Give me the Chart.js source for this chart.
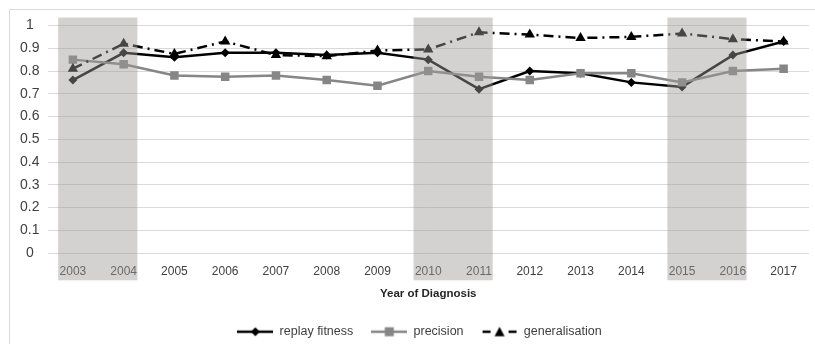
<!DOCTYPE html>
<html>
<head>
<meta charset="utf-8">
<script src="https://cdn.jsdelivr.net/npm/chart.js@4"></script>
<style>
  html, body { margin: 0; padding: 0; background: #fff; overflow: hidden; }
  #wrap { width: 815px; height: 344px; position: relative; }
</style>
</head>
<body>
<div id="wrap"><canvas id="c" width="815" height="344"></canvas></div>
<script>
const years = ['2003','2004','2005','2006','2007','2008','2009','2010','2011','2012','2013','2014','2015','2016','2017'];
const replayFitness = [0.76,0.88,0.86,0.88,0.88,0.87,0.88,0.85,0.72,0.80,0.79,0.75,0.73,0.87,0.93];
const precision     = [0.85,0.83,0.78,0.775,0.78,0.76,0.735,0.80,0.775,0.76,0.79,0.79,0.75,0.80,0.81];
const generalisation= [0.81,0.92,0.875,0.93,0.87,0.865,0.89,0.895,0.97,0.96,0.945,0.95,0.965,0.94,0.93];
const yTicks = [0,0.1,0.2,0.3,0.4,0.5,0.6,0.7,0.8,0.9,1];
const shadedRanges = [['2003','2004'],['2010','2011'],['2015','2016']];
const xTitle = 'Year of Diagnosis';
const seriesNames = ['replay fitness','precision','generalisation'];

const FONT = '"Liberation Sans", Arial, sans-serif';
const TXT = '#404040';

function legendIcon(kind) {
  const c = document.createElement('canvas');
  c.width = 36; c.height = 12;
  const g = c.getContext('2d');
  g.lineWidth = 2.5;
  if (kind === 0) {
    g.strokeStyle = '#000'; g.beginPath(); g.moveTo(0,6); g.lineTo(36,6); g.stroke();
    g.fillStyle = '#000'; g.beginPath(); g.moveTo(18,1.5); g.lineTo(22.5,6); g.lineTo(18,10.5); g.lineTo(13.5,6); g.closePath(); g.fill();
  } else if (kind === 1) {
    g.strokeStyle = '#868686'; g.beginPath(); g.moveTo(0,6); g.lineTo(36,6); g.stroke();
    g.fillStyle = '#868686'; g.fillRect(13.5,1.5,9,9);
  } else {
    g.strokeStyle = '#000'; g.beginPath(); g.moveTo(1,6); g.lineTo(9,6); g.moveTo(27,6); g.lineTo(35,6); g.stroke();
    g.fillStyle = '#000'; g.beginPath(); g.moveTo(18,1); g.lineTo(23,10.5); g.lineTo(13,10.5); g.closePath(); g.fill();
  }
  return c;
}
const icons = [legendIcon(0), legendIcon(1), legendIcon(2)];

const bandPlugin = {
  id: 'bands',
  afterDatasetsDraw(chart) {
    const x = chart.scales.x, y = chart.scales.y, ctx = chart.ctx;
    const w = x.getPixelForValue(1) - x.getPixelForValue(0);
    const top = y.getPixelForValue(1.035), bottom = y.getPixelForValue(-0.12);
    ctx.save();
    ctx.fillStyle = 'rgba(160,152,152,0.45)';
    shadedRanges.forEach(([a,b]) => {
      const l = x.getPixelForValue(years.indexOf(a)) - 0.29*w;
      const r = x.getPixelForValue(years.indexOf(b)) + 0.27*w;
      ctx.fillRect(l, top, r - l, bottom - top);
    });
    ctx.restore();
  }
};
const framePlugin = {
  id: 'frame',
  beforeDraw(chart) {
    const ctx = chart.ctx;
    ctx.save();
    ctx.strokeStyle = '#d9d9d9'; ctx.lineWidth = 1;
    ctx.beginPath();
    ctx.moveTo(9.5, chart.height + 5); ctx.lineTo(9.5, 9.5); ctx.lineTo(chart.width + 5, 9.5);
    ctx.stroke();
    ctx.restore();
  }
};
const legendShift = {
  id: 'legendShift',
  afterLayout(chart) {
    const lg = chart.legend;
    if (lg) { lg.left += 28; lg.width = lg.right - lg.left; }
  }
};

new Chart(document.getElementById('c'), {
  type: 'line',
  data: {
    labels: years,
    datasets: [
      { label: seriesNames[0], data: replayFitness, borderColor: '#000', backgroundColor: '#000',
        borderWidth: 2.5, pointStyle: 'rectRot', pointRadius: 4.5, pointBorderWidth: 0, order: 3, tension: 0 },
      { label: seriesNames[1], data: precision, borderColor: '#868686', backgroundColor: '#868686',
        borderWidth: 2.5, pointStyle: 'rect', pointRadius: 6, pointBorderWidth: 0, order: 2, tension: 0 },
      { label: seriesNames[2], data: generalisation, borderColor: '#000', backgroundColor: '#000',
        borderWidth: 2.5, borderDash: [10,5,2,5], pointStyle: 'triangle', pointRadius: 6, pointBorderWidth: 0, order: 1, tension: 0 }
    ]
  },
  options: {
    responsive: false,
    animation: false,
    layout: { padding: { top: 25.5, right: 4, left: 0, bottom: -4 } },
    scales: {
      x: {
        offset: true,
        afterFit(s) { s.height = 54.5; },
        grid: { display: false, drawTicks: false },
        border: { display: false },
        ticks: { color: TXT, font: { family: FONT, size: 12 }, padding: 11, maxRotation: 0, autoSkip: false },
        title: { display: true, text: xTitle, color: '#262626', font: { family: FONT, size: 11.5, weight: 'bold' }, padding: { top: 4, bottom: 7 } }
      },
      y: {
        min: 0, max: 1,
        afterBuildTicks(s) { s.ticks = yTicks.map(v => ({ value: v })); },
        afterFit(s) { s.width = 47.5; },
        grid: { color: '#d9d9d9', lineWidth: 1, drawTicks: false },
        border: { display: false },
        ticks: { color: TXT, font: { family: FONT, size: 14 }, padding: 8, crossAlign: 'center',
          callback: v => String(Math.round(v*10)/10) }
      }
    },
    plugins: {
      tooltip: { enabled: false },
      legend: {
        position: 'bottom',
        labels: {
          usePointStyle: true, pointStyleWidth: 36, padding: 18, color: TXT,
          font: { family: FONT, size: 12.5 },
          generateLabels: () => seriesNames.map((n, i) => ({
            text: n, pointStyle: icons[i], fillStyle: '#000', strokeStyle: '#000', lineWidth: 0, hidden: false, datasetIndex: i, fontColor: TXT
          }))
        }
      }
    }
  },
  plugins: [bandPlugin, framePlugin, legendShift]
});
</script>
</body>
</html>
